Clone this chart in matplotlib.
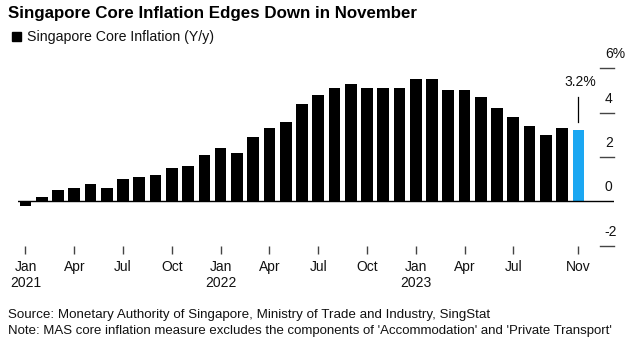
import matplotlib
matplotlib.use("Agg")
import matplotlib.pyplot as plt
import matplotlib.transforms as mtransforms
import numpy as np

plt.rcParams["font.family"] = ["Liberation Sans", "DejaVu Sans"]

# Monthly core inflation, Jan 2021 - Nov 2023 (% y/y)
months = [
    "Jan 2021", "Feb 2021", "Mar 2021", "Apr 2021", "May 2021", "Jun 2021",
    "Jul 2021", "Aug 2021", "Sep 2021", "Oct 2021", "Nov 2021", "Dec 2021",
    "Jan 2022", "Feb 2022", "Mar 2022", "Apr 2022", "May 2022", "Jun 2022",
    "Jul 2022", "Aug 2022", "Sep 2022", "Oct 2022", "Nov 2022", "Dec 2022",
    "Jan 2023", "Feb 2023", "Mar 2023", "Apr 2023", "May 2023", "Jun 2023",
    "Jul 2023", "Aug 2023", "Sep 2023", "Oct 2023", "Nov 2023",
]
core_inflation = [
    -0.2, 0.2, 0.5, 0.6, 0.8, 0.6, 1.0, 1.1, 1.2, 1.5, 1.6, 2.1,
    2.4, 2.2, 2.9, 3.3, 3.6, 4.4, 4.8, 5.1, 5.3, 5.1, 5.1, 5.1,
    5.5, 5.5, 5.0, 5.0, 4.7, 4.2, 3.8, 3.4, 3.0, 3.3, 3.2,
]
tick_months = [0, 3, 6, 9, 12, 15, 18, 21, 24, 27, 30, 34]
tick_labels = ["Jan\n2021", "Apr", "Jul", "Oct", "Jan\n2022", "Apr", "Jul",
               "Oct", "Jan\n2023", "Apr", "Jul", "Nov"]
y_ticks = [6, 4, 2, 0, -2]
y_tick_labels = ["6%", "4", "2", "0", "-2"]

BLUE = "#1BA7F2"

fig = plt.figure(figsize=(6.3, 3.46), dpi=100)
ax = fig.add_axes([0.0286, 0.2899, 0.946, 0.5127])

x = np.arange(len(core_inflation))
colors = ["black"] * (len(x) - 1) + [BLUE]
ax.bar(x, core_inflation, width=0.72, color=colors, zorder=2)

ax.set_xlim(-0.46, 36.19)
ax.set_ylim(-2, 6)

# zero line across the plot
ax.axhline(0, color="black", linewidth=1.0, zorder=3)

# right-hand value ticks: short dashes with labels sitting above them
trans = mtransforms.blended_transform_factory(ax.transAxes, ax.transData)
for val, lab in zip(y_ticks, y_tick_labels):
    if val != 0:
        ax.plot([0.9765, 1.0], [val, val], color="#444444", linewidth=1.0,
                transform=trans, clip_on=False)
    ax.annotate(lab, xy=(0.9845, val), xycoords=trans, xytext=(0, 5),
                textcoords="offset points", ha="left", va="bottom",
                fontsize=10, color="#111111")
ax.set_yticks([])

ax.set_xticks(tick_months)
ax.set_xticklabels(tick_labels, fontsize=10, color="#111111", linespacing=1.2)
ax.tick_params(axis="x", direction="out", length=6, width=1.0,
               color="#444444", pad=4.5)

for side in ["top", "right", "left", "bottom"]:
    ax.spines[side].set_visible(False)

# callout on the latest reading
last_x = x[-1]
last_v = core_inflation[-1]
ax.plot([last_x, last_x], [last_v + 0.4, last_v + 1.5], color="black",
        linewidth=0.9, clip_on=False)
ax.text(last_x + 0.1, last_v + 2.2, f"{last_v:.1f}%", ha="center",
        va="center", fontsize=10, color="#111111")

# title, legend, notes
fig.text(0.013, 0.962, "Singapore Core Inflation Edges Down in November",
         fontsize=12.2, fontweight="bold", ha="left", va="center")
fig.patches.append(plt.Rectangle((0.019, 0.882), 0.0145, 0.026,
                                 transform=fig.transFigure, color="black"))
fig.text(0.043, 0.893, "Singapore Core Inflation (Y/y)", fontsize=10.2,
         ha="left", va="center", color="#111111")
fig.text(0.013, 0.09, "Source: Monetary Authority of Singapore, Ministry of "
         "Trade and Industry, SingStat", fontsize=9.6, ha="left",
         va="center", color="#111111")
fig.text(0.013, 0.043, "Note: MAS core inflation measure excludes the "
         "components of 'Accommodation' and 'Private Transport'",
         fontsize=9.5, ha="left", va="center", color="#111111")

fig.savefig("out.png", dpi=100)
